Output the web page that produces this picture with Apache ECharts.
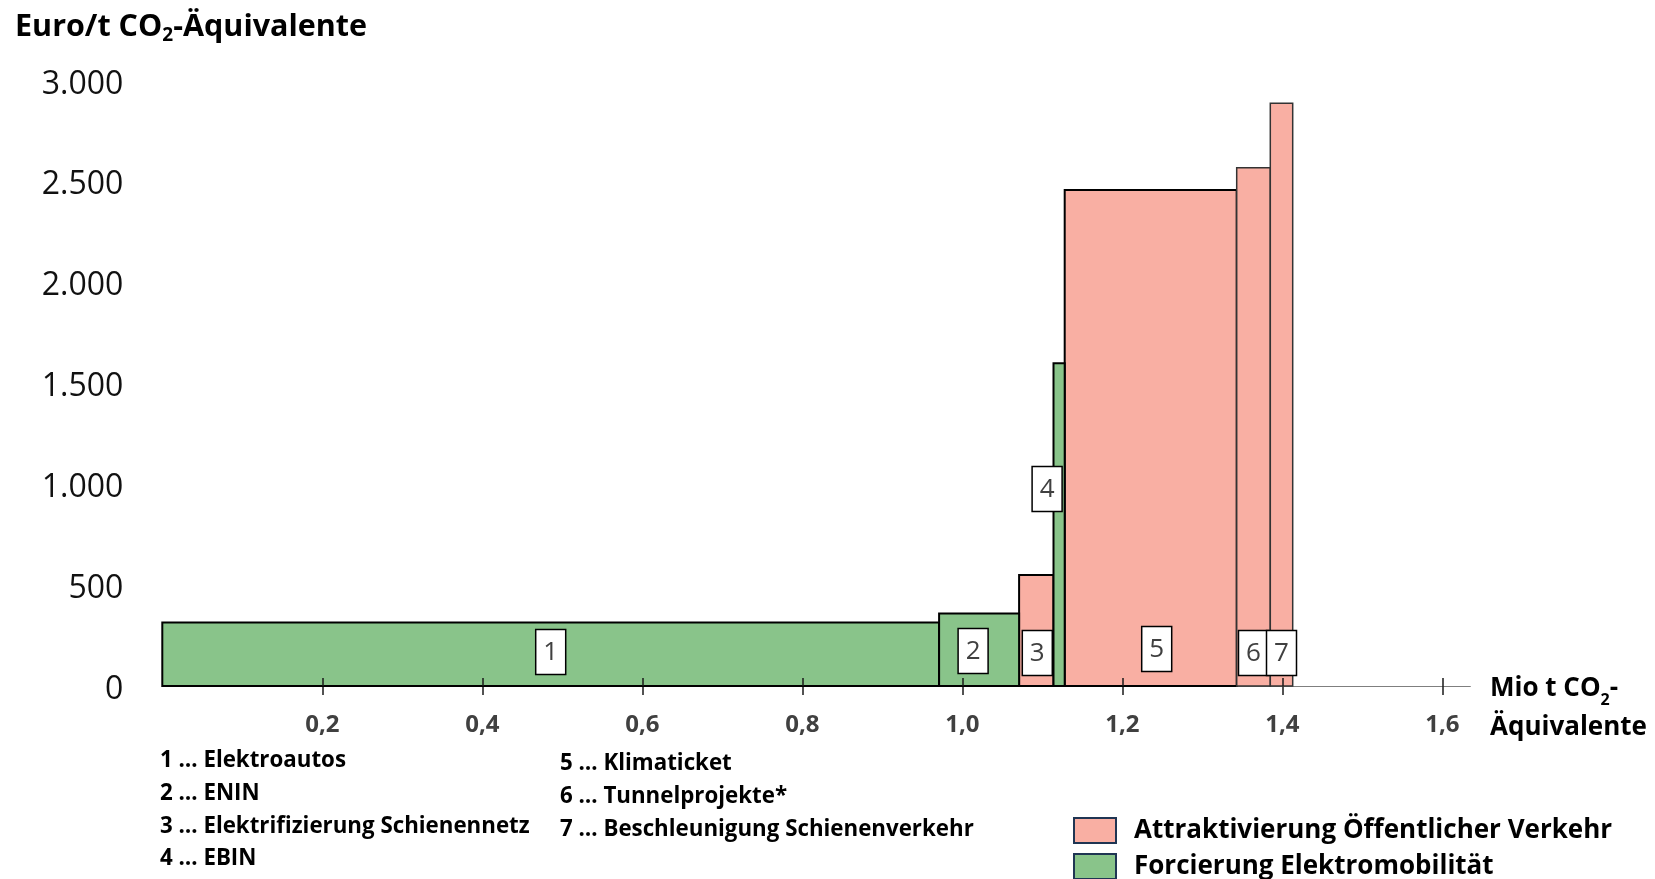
<!DOCTYPE html>
<html>
<head>
<meta charset="utf-8">
<script src="https://cdn.jsdelivr.net/npm/echarts@6/dist/echarts.min.js"></script>
<style>
  html, body { margin: 0; padding: 0; background: #ffffff; }
  #chart { width: 1655px; height: 879px; }
</style>
</head>
<body>
<div id="chart"></div>
<script>
// Abatement measures (order along the x axis)
const measureNames = [
  'Elektroautos',
  'ENIN',
  'Elektrifizierung Schienennetz',
  'EBIN',
  'Klimaticket',
  'Tunnelprojekte*',
  'Beschleunigung Schienenverkehr'
];
// Emission reduction per measure, Mio t CO2-equivalent (bar widths)
const reductions = [0.971, 0.100, 0.043, 0.014, 0.215, 0.042, 0.028];
// Abatement cost, Euro per t CO2-equivalent (bar heights)
const costs = [315, 360, 550, 1600, 2460, 2570, 2890];
// Measure package: 0 = public transport, 1 = e-mobility
const measureGroup = [1, 1, 0, 1, 0, 0, 0];
const groupNames = ['Attraktivierung Öffentlicher Verkehr', 'Forcierung Elektromobilität'];
// Labelled x ticks
const xTickValues = [0.2, 0.4, 0.6, 0.8, 1.0, 1.2, 1.4, 1.6];

const FONT = '"Open Sans", Lato, sans-serif';
const groupColors = ['#F9AFA3', '#89C48A'];
const X_MAX = 1.635;

// Number-box placement relative to the bar centre (pixels)
const boxShiftX = [0, -6, 1, -12, 6, 0, 0];
const boxLift = [34, 35, 33, 197, 37, 33, 33];

// Stack the bars side by side: each starts where the previous one ends
const bars = [];
let acc = 0;
reductions.forEach((w, i) => {
  bars.push({ start: acc, end: acc + w, cost: costs[i], group: measureGroup[i], idx: i });
  acc += w;
});

function barData(g) {
  return bars.filter(b => b.group === g).map(b => [b.start, b.end, b.cost, b.idx]);
}

function renderBar(params, api) {
  const x0 = api.value(0), x1 = api.value(1), c = api.value(2), idx = api.value(3);
  const pTop = api.coord([x0, c]);
  const pBot = api.coord([x1, 0]);
  const thin = idx >= 5;
  return {
    type: 'rect',
    shape: { x: pTop[0], y: pTop[1], width: pBot[0] - pTop[0], height: pBot[1] - pTop[1] },
    style: {
      fill: api.visual('color'),
      stroke: thin ? '#333333' : '#000000',
      lineWidth: thin ? 1.5 : 2
    }
  };
}

function renderBox(params, api) {
  const x0 = api.value(0), x1 = api.value(1), idx = api.value(2);
  const a = api.coord([x0, 0]);
  const b = api.coord([x1, 0]);
  const cx = (a[0] + b[0]) / 2 + boxShiftX[idx];
  const cy = a[1] - boxLift[idx];
  const w = 30, h = 45;
  return {
    type: 'group',
    children: [
      {
        type: 'rect',
        shape: { x: cx - w / 2, y: cy - h / 2, width: w, height: h },
        style: { fill: '#ffffff', stroke: '#000000', lineWidth: 1.5 }
      },
      {
        type: 'text',
        style: {
          x: cx, y: cy + 1,
          text: String(idx + 1),
          align: 'center', verticalAlign: 'middle',
          fontFamily: FONT, fontSize: 26, fill: '#404040'
        }
      }
    ]
  };
}

const thousands = v => String(v).replace(/\B(?=(\d{3})+(?!\d))/g, '.');

const chart = echarts.init(document.getElementById('chart'), null, { renderer: 'canvas' });

const titleRich = {
  b: { fontFamily: FONT, fontSize: 30.5, fontWeight: 'bold', fill: '#000', lineHeight: 36 },
  s: { fontFamily: FONT, fontSize: 19, fontWeight: 'bold', fill: '#000', lineHeight: 19, verticalAlign: 'bottom' }
};
const axisNameRich = {
  b: { fontFamily: FONT, fontSize: 26, fontWeight: 'bold', fill: '#000', lineHeight: 39 },
  s: { fontFamily: FONT, fontSize: 16, fontWeight: 'bold', fill: '#000', lineHeight: 26, verticalAlign: 'bottom' }
};

const listGraphics = [];
measureNames.forEach((name, i) => {
  const col = i < 4 ? 0 : 1;
  const row = i < 4 ? i : i - 4;
  listGraphics.push({
    type: 'text',
    left: col === 0 ? 160 : 560,
    top: (col === 0 ? 765 : 768) + row * 32.6 - 15,
    style: {
      text: (i + 1) + ' … ' + name,
      fontFamily: FONT, fontSize: 22.3, fontWeight: 'bold', fill: '#000'
    }
  });
});

const legendBase = {
  orient: 'vertical', left: 1073, padding: 0,
  itemWidth: 42, itemHeight: 25, icon: 'rect',
  itemStyle: { borderColor: '#1f3553', borderWidth: 2 },
  textStyle: { fontFamily: FONT, fontSize: 26, fontWeight: 'bold', color: '#000', padding: [0, 0, 0, 13] },
  selectedMode: false
};

chart.setOption({
  animation: false,
  backgroundColor: '#ffffff',
  grid: { left: 162.3, right: 1655 - (162.3 + X_MAX * 800), top: 81, bottom: 193, containLabel: false },
  xAxis: [
    {
      type: 'value', min: 0, max: X_MAX, position: 'bottom',
      axisLine: { show: true, lineStyle: { color: '#7f7f7f', width: 1.2 } },
      axisTick: { show: true, inside: false, length: 9, customValues: xTickValues, lineStyle: { color: '#1a1a1a', width: 1.5 } },
      axisLabel: {
        show: true, customValues: xTickValues, margin: 27,
        formatter: v => v.toFixed(1).replace('.', ','),
        fontFamily: FONT, fontSize: 24, fontWeight: 'bold', color: '#404040'
      },
      splitLine: { show: false }
    },
    {
      // short ticks above the line, drawn over the bars
      type: 'value', min: 0, max: X_MAX, position: 'bottom', offset: 0, z: 10,
      axisLine: { show: false },
      axisTick: { show: true, inside: true, length: 8, customValues: xTickValues, lineStyle: { color: '#1a1a1a', width: 1.5 } },
      axisLabel: { show: false },
      splitLine: { show: false }
    }
  ],
  yAxis: {
    type: 'value', min: 0, max: 3000, interval: 500,
    axisLine: { show: false }, axisTick: { show: false }, splitLine: { show: false },
    axisLabel: {
      margin: 39,
      formatter: v => '{v|' + thousands(v) + '}',
      rich: {
        v: { fontFamily: FONT, fontSize: 32, color: '#111111', padding: [7, 0, 0, 0] }
      }
    }
  },
  legend: [
    Object.assign({}, legendBase, { top: 817, data: [groupNames[0]] }),
    Object.assign({}, legendBase, { top: 853, data: [groupNames[1]] })
  ],
  series: [
    {
      name: groupNames[0], type: 'custom', xAxisIndex: 0, yAxisIndex: 0,
      itemStyle: { color: groupColors[0] },
      renderItem: renderBar, data: barData(0), encode: { x: [0, 1], y: 2 }, z: 2
    },
    {
      name: groupNames[1], type: 'custom', xAxisIndex: 0, yAxisIndex: 0,
      itemStyle: { color: groupColors[1] },
      renderItem: renderBar, data: barData(1), encode: { x: [0, 1], y: 2 }, z: 2
    },
    {
      name: 'Maßnahmen', type: 'custom', xAxisIndex: 0, yAxisIndex: 0,
      renderItem: renderBox, data: bars.map(b => [b.start, b.end, b.idx]), encode: { x: [0, 1] }, z: 5
    }
  ],
  graphic: [
    {
      type: 'text', left: 15, top: 12,
      style: { text: '{b|Euro/t CO}{s|2}{b|-Äquivalente}', rich: titleRich }
    },
    {
      type: 'text', left: 1490, top: 676,
      style: { text: '{b|Mio t CO}{s|2}{b|-}\n{b|Äquivalente}', rich: axisNameRich }
    }
  ].concat(listGraphics)
});
</script>
</body>
</html>
